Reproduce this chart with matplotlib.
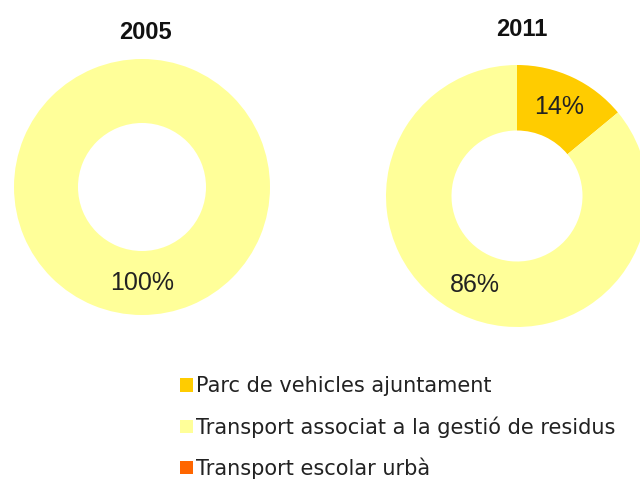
import matplotlib.pyplot as plt
from matplotlib.patches import Patch

plt.rcParams['font.family'] = ['Liberation Sans', 'DejaVu Sans']

categories = ['Parc de vehicles ajuntament',
              'Transport associat a la gestió de residus',
              'Transport escolar urbà']
colors = ['#FFCC00', '#FFFF99', '#FF6600']
years = ['2005', '2011']
values_2005 = [0, 100, 0]
values_2011 = [14, 86, 0]

fig = plt.figure(figsize=(6.4, 4.84), dpi=100)
W, H = 640, 484


def donut(cx, cy, r, vals, title, tx, ty):
    ax = fig.add_axes([(cx - r) / W, 1 - (cy + r) / H, 2 * r / W, 2 * r / H])
    wedges, texts, autotexts = ax.pie(
        vals, colors=colors, startangle=90, counterclock=False,
        radius=1, wedgeprops=dict(width=0.5, linewidth=0),
        autopct=lambda p: f'{p:.0f}%' if p > 0 else '', pctdistance=0.75,
        textprops=dict(fontsize=18, color='#222222'))
    ax.set_xlim(-1, 1)
    ax.set_ylim(-1, 1)
    ax.set_aspect('equal')
    ax.axis('off')
    fig.text(tx / W, 1 - ty / H, title, ha='center', va='center',
             fontsize=17, fontweight='bold', color='#111111')
    return wedges


donut(142, 187, 128, values_2005, years[0], 145, 33)
donut(517, 196, 131, values_2011, years[1], 522, 29)

handles = [Patch(facecolor=c, edgecolor='none') for c in colors]
fig.legend(handles, categories, loc='upper left',
           bbox_to_anchor=(170 / W, 1 - 366 / H), frameon=False,
           prop=dict(family='DejaVu Sans', size=15),
           labelspacing=0.95, handlelength=0.6,
           handleheight=0.6, handletextpad=0.15, borderpad=0,
           labelcolor='#222222')

fig.savefig('out.png', dpi=100)
